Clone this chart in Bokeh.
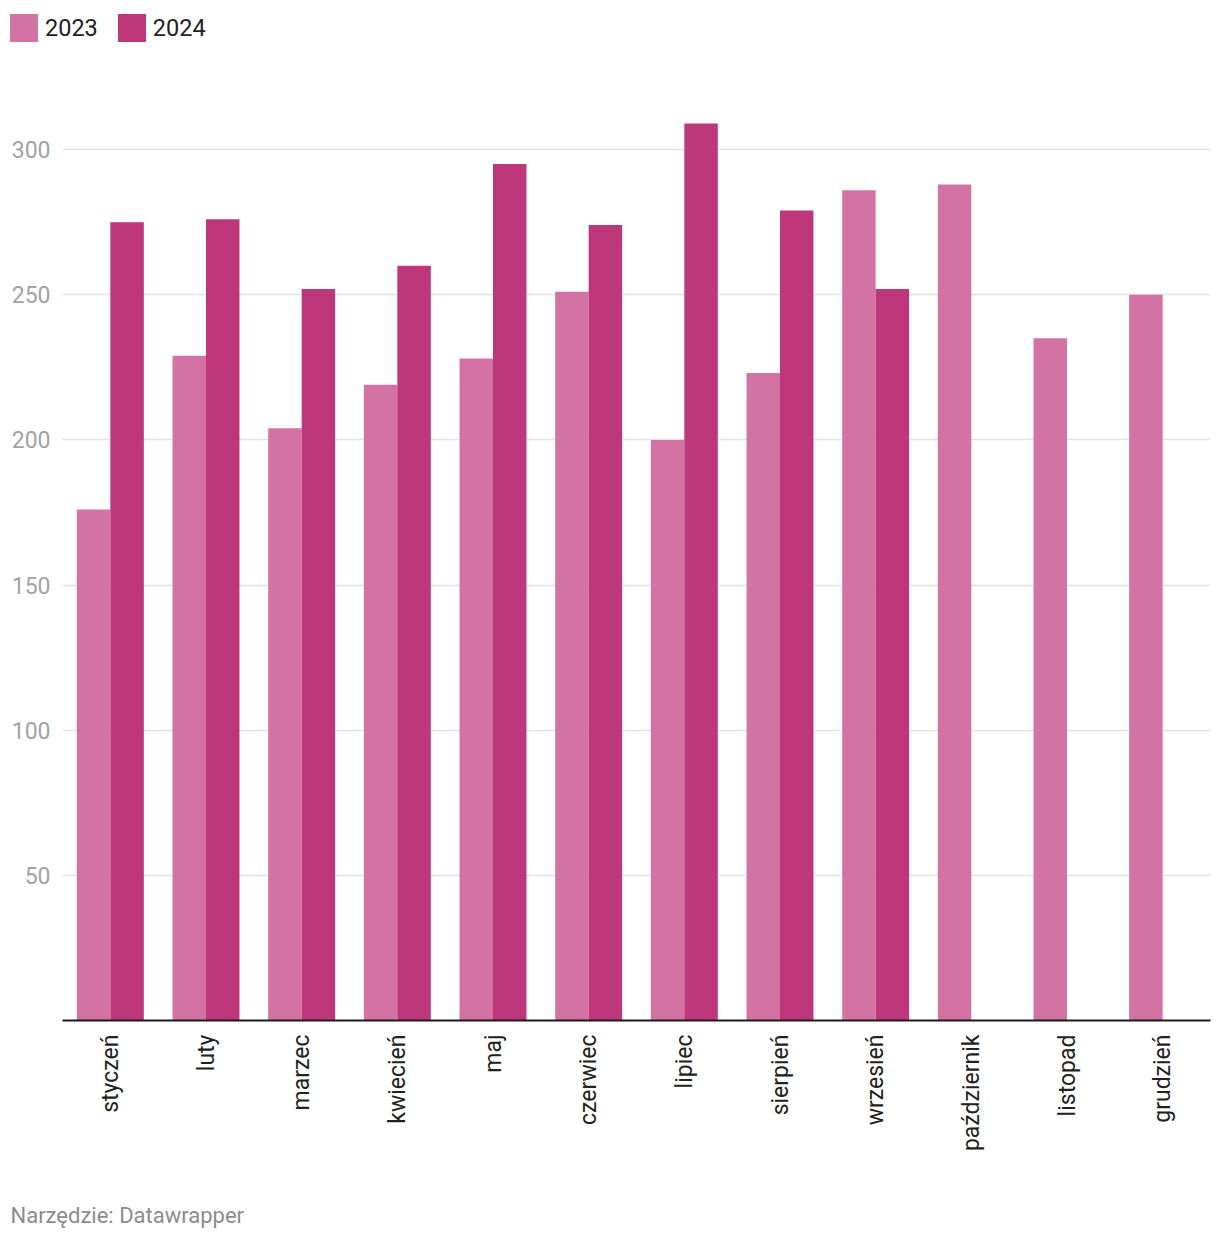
import math
from bokeh.plotting import figure
from bokeh.layouts import column
from bokeh.models import (ColumnDataSource, FactorRange, Range1d, FixedTicker, Legend,
                          LegendItem, Label)
from bokeh.transform import dodge
from bokeh.embed import file_html
from bokeh.resources import INLINE

months = ["styczeń", "luty", "marzec", "kwiecień", "maj", "czerwiec", "lipiec",
          "sierpień", "wrzesień", "październik", "listopad", "grudzień"]
v2023 = [176, 229, 204, 219, 228, 251, 200, 223, 286, 288, 235, 250]
v2024 = [275, 276, 252, 260, 295, 274, 309, 279, 252, None, None, None]
y_ticks = [50, 100, 150, 200, 250, 300]
series_names = ["2023", "2024"]
colors = ["#d373a4", "#be377b"]
source_note = "Narzędzie: Datawrapper"

W = 1212
FONT = "Roboto"

src23 = ColumnDataSource(dict(m=months, v=v2023))
m24 = [m for m, v in zip(months, v2024) if v is not None]
val24 = [v for v in v2024 if v is not None]
src24 = ColumnDataSource(dict(m=m24, v=val24))


def strip(h):
    f = figure(width=W, height=h, output_backend="svg", toolbar_location=None,
               x_range=Range1d(0, 1), y_range=Range1d(0, 1),
               x_axis_location=None, y_axis_location=None,
               min_border_left=0, min_border_right=0, min_border_top=0, min_border_bottom=0)
    f.outline_line_color = None
    f.grid.visible = False
    f.border_fill_color = "white"
    f.background_fill_color = "white"
    f.frame_align = False
    return f


# ---- legend strip ----
leg = strip(60)
# placeholder glyphs (outside the visible range) that only supply the legend swatches
d23 = leg.rect(x=[-9], y=[-9], width=1, height=1, fill_color=colors[0], line_color=None)
d24 = leg.rect(x=[-9], y=[-9], width=1, height=1, fill_color=colors[1], line_color=None)
legend = Legend(items=[LegendItem(label=series_names[0], renderers=[d23]),
                       LegendItem(label=series_names[1], renderers=[d24])],
                orientation="horizontal", location=(6, 15),
                glyph_width=35, glyph_height=35, label_standoff=4, spacing=16,
                padding=0, margin=0, border_line_color=None, background_fill_alpha=0,
                label_text_font=FONT, label_text_font_size="23.5px",
                label_text_color="#222222", label_height=35)
leg.add_layout(legend, "center")

# ---- main chart ----
p = figure(width=W, height=1120, output_backend="svg", toolbar_location=None,
           x_range=FactorRange(*months), y_range=Range1d(0, 320),
           min_border_left=62, min_border_right=2, min_border_top=31, min_border_bottom=160)
p.outline_line_color = None
p.background_fill_color = "white"
p.border_fill_color = "white"
p.frame_align = False

p.vbar(x=dodge("m", -0.175, range=p.x_range), top="v", width=0.35, source=src23,
       fill_color=colors[0], line_color=None)
p.vbar(x=dodge("m", 0.175, range=p.x_range), top="v", width=0.35, source=src24,
       fill_color=colors[1], line_color=None)

p.yaxis.ticker = FixedTicker(ticks=y_ticks)
p.yaxis.axis_line_color = None
p.yaxis.major_tick_line_color = None
p.yaxis.minor_tick_line_color = None
p.yaxis.major_label_text_color = "#a3a3a3"
p.yaxis.major_label_text_font = FONT
p.yaxis.major_label_text_font_size = "23px"
p.yaxis.major_label_standoff = 6
p.ygrid.ticker = FixedTicker(ticks=y_ticks)
p.ygrid.grid_line_color = "#e3e3e3"
p.ygrid.grid_line_width = 1.5
p.xgrid.grid_line_color = None

p.xaxis.axis_line_color = "#1a1a1a"
p.xaxis.axis_line_width = 2
p.xaxis.major_tick_line_color = None
p.xaxis.minor_tick_line_color = None
p.xaxis.major_label_orientation = math.pi / 2
p.xaxis.major_label_text_font = FONT
p.xaxis.major_label_text_font_size = "23px"
p.xaxis.major_label_text_color = "#222222"
p.xaxis.major_label_standoff = 8

# ---- footnote strip ----
ft = strip(52)
ft.add_layout(Label(x=10, y=17, x_units="screen", y_units="screen", text=source_note,
                    text_font=FONT, text_font_size="22px", text_color="#8c8c8c",
                    text_baseline="middle", text_align="left"))

layout = column(leg, p, ft, spacing=0)
open("out.html", "w").write(file_html(layout, INLINE))
